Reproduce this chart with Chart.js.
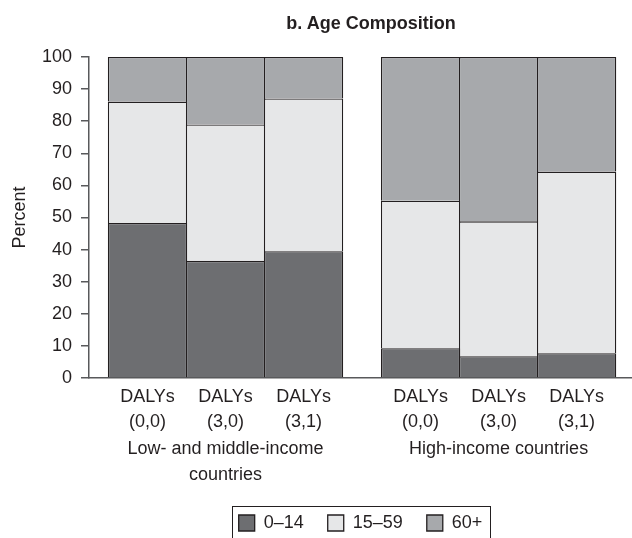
<!DOCTYPE html>
<html><head><meta charset="utf-8">
<script src="https://cdn.jsdelivr.net/npm/chart.js@4.4.1/dist/chart.umd.min.js"></script>
<style>
html,body{margin:0;padding:0;background:#fff;}
#wrap{position:relative;width:632px;height:538px;}
#title{position:absolute;left:221px;width:300px;top:14px;text-align:center;font:bold 18px 'Liberation Sans',Arial,sans-serif;line-height:18px;color:#231f20;}
canvas{position:absolute;left:0;top:0;}
</style></head><body>
<div id="wrap"><canvas id="c" width="632" height="538"></canvas><div id="title">b. Age Composition</div></div>
<script>
// ---- data ----
const groups = [['Low- and middle-income', 'countries'], ['High-income countries']];
const scenarios = [['DALYs', '(0,0)'], ['DALYs', '(3,0)'], ['DALYs', '(3,1)']];
const seriesNames = ['0–14', '15–59', '60+'];
const age0to14 = [48.3, 36.5, 39.5, 9.3, 6.8, 7.7];
const age15to59 = [37.8, 42.5, 47.6, 45.9, 42.0, 56.6];
const age60plus = [13.9, 21.0, 12.9, 44.8, 51.2, 35.7];

// ---- layout helpers ----
const FONT = "'Liberation Sans',Arial,sans-serif";
const FS = 18;
const INK = '#231f20', AXIS = '#58595b';
const COLORS = ['#6d6e71', '#e6e7e8', '#a7a9ac'];
const GROUP_GAP = 0.5;
const barPos = [], barLabels = [], groupPos = [];
groups.forEach((g, gi) => {
  const base = 1 + gi * (scenarios.length + GROUP_GAP);
  scenarios.forEach((s, si) => { barPos.push(base + si); barLabels.push(s); });
  groupPos.push(base + (scenarios.length - 1) / 2);
});
const X_MIN = 0.25, X_MAX = 7.21;
const BW = 1.3;
function findIdx(arr, v) { return arr.findIndex(p => Math.abs(p - v) < 1e-6); }
function mk(label, values, color) {
  return {
    label, data: values.map((v, i) => ({x: barPos[i], y: v})),
    backgroundColor: color, borderColor: INK, borderWidth: BW,
    borderSkipped: 'bottom', barPercentage: 1 + BW / 78, categoryPercentage: 1
  };
}
const legendFrame = {
  id: 'legendFrame',
  afterDraw(chart) {
    const hb = chart.legend && chart.legend.legendHitBoxes;
    if (!hb || !hb.length) return;
    const first = hb[0], last = hb[hb.length - 1];
    const ctx = chart.ctx;
    ctx.save();
    ctx.strokeStyle = INK; ctx.lineWidth = 1;
    const l = Math.round(first.left - 7) + 0.5;
    const r = Math.round(last.left + last.width + 8) + 0.5;
    const t = Math.round(first.top + first.height / 2 - 17) + 0.5;
    ctx.strokeRect(l, t, r - l, chart.height + 20 - t);
    ctx.restore();
  }
};
new Chart(document.getElementById('c'), {
  type: 'bar',
  data: {datasets: [mk(seriesNames[0], age0to14, COLORS[0]), mk(seriesNames[1], age15to59, COLORS[1]), mk(seriesNames[2], age60plus, COLORS[2])]},
  options: {
    responsive: false, animation: false, devicePixelRatio: 1,
    layout: {padding: {top: 57, right: 0, bottom: -4, left: 0}},
    plugins: {
      title: {display: false}, tooltip: {enabled: false},
      legend: {position: 'bottom', fullSize: false,
        labels: {font: {family: FONT, size: FS}, color: INK, boxWidth: 16, boxHeight: 16, padding: 24}}
    },
    scales: {
      x: {type: 'linear', min: X_MIN, max: X_MAX, stacked: true, weight: 0, offset: false,
        grid: {display: false, drawTicks: false, tickLength: 0, offset: false},
        border: {display: true, color: AXIS, width: 1.5},
        afterBuildTicks: ax => { ax.ticks = barPos.map(v => ({value: v})); },
        ticks: {autoSkip: false, maxRotation: 0, padding: 7, color: INK,
          font: {family: FONT, size: FS, lineHeight: 1.38},
          callback: v => { const i = findIdx(barPos, v); return i < 0 ? '' : barLabels[i]; }},
        afterFit: s => { s.height = 57; }
      },
      xg: {type: 'linear', position: 'bottom', min: X_MIN, max: X_MAX, weight: 1, offset: false,
        grid: {display: false, drawTicks: false, tickLength: 0, offset: false},
        border: {display: false},
        afterBuildTicks: ax => { ax.ticks = groupPos.map(v => ({value: v})); },
        ticks: {autoSkip: false, maxRotation: 0, padding: 1, color: INK,
          font: {family: FONT, size: FS, lineHeight: 1.45},
          callback: v => { const i = findIdx(groupPos, v); return i < 0 ? '' : groups[i]; }},
        afterFit: s => { s.height = 55; }
      },
      y: {min: 0, max: 100, stacked: true,
        ticks: {stepSize: 10, padding: 9, color: INK, font: {family: FONT, size: FS}},
        grid: {drawOnChartArea: false, drawTicks: true, tickLength: 8, color: AXIS, lineWidth: 1.5},
        border: {color: AXIS, width: 1.5},
        title: {display: true, text: 'Percent', color: INK, font: {family: FONT, size: FS}, padding: {top: 9, bottom: 0}},
        afterFit: s => { s.width = 89; }
      }
    }
  },
  plugins: [legendFrame]
});
</script>
</body></html>
